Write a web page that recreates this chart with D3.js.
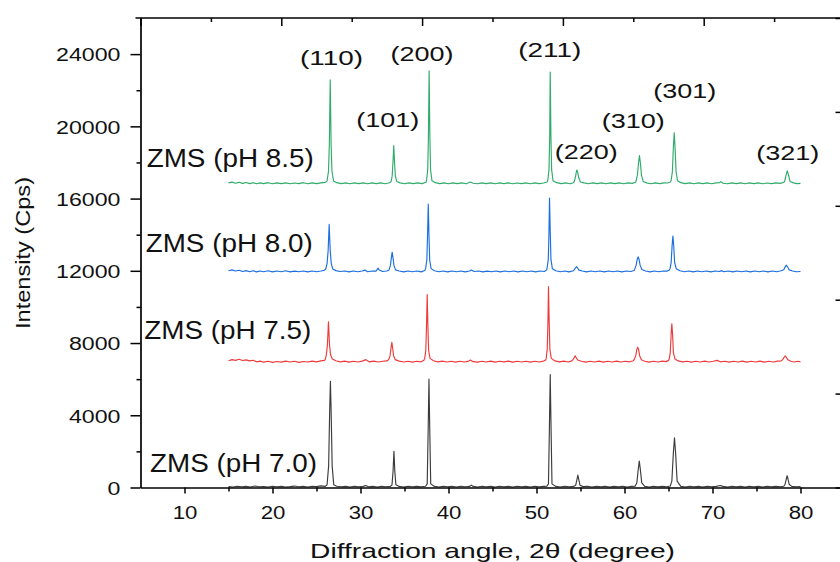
<!DOCTYPE html>
<html>
<head>
<meta charset="utf-8">
<script src="https://cdn.jsdelivr.net/npm/d3@7"></script>
<style>
  html, body { margin: 0; padding: 0; background: #fff; }
  svg { display: block; font-family: "Liberation Sans", Arial, sans-serif; }
</style>
</head>
<body>
<svg id="chart" width="840" height="562"></svg>
<script>
// XRD patterns of ZMS powders prepared at different pH, [2θ (deg), intensity (Cps)]
const zms70 = [
  [15.0,50],[15.5,30],[16.0,70],[16.5,40],[17.0,60],[17.5,30],[18.0,80],[18.5,40],[19.0,50],[19.5,30],
  [20.0,70],[20.5,40],[21.0,60],[21.5,30],[22.0,50],[22.5,80],[23.0,40],[23.5,60],[24.0,30],[24.5,70],
  [25.0,50],[25.5,90],[26.0,60],
  [26.2,150],[26.38,1200],[26.5,4300],[26.58,5880],[26.66,4300],[26.78,1200],[26.96,150],
  [27.3,70],[27.8,40],[28.3,60],[28.8,30],[29.3,70],[29.8,40],[30.3,60],[30.6,110],[30.9,40],[31.4,60],
  [31.9,30],[32.4,70],[32.9,40],[33.4,60],
  [33.58,150],[33.7,900],[33.8,2000],[33.9,900],[34.02,150],
  [34.4,60],[34.9,30],[35.4,70],[35.9,40],[36.4,60],[36.9,40],[37.4,70],
  [37.58,200],[37.7,3500],[37.78,6000],[37.86,3500],[37.98,200],
  [38.4,60],[38.9,30],[39.4,70],[39.9,40],[40.4,60],[40.9,30],[41.4,70],[41.9,40],[42.4,60],[42.6,130],
  [42.8,60],[43.3,30],[43.8,70],[44.3,40],[44.8,60],[45.3,30],[45.8,70],[46.3,40],[46.8,60],[47.3,30],
  [47.8,70],[48.3,40],[48.8,60],[49.3,30],[49.8,70],[50.3,40],[50.8,60],[51.2,80],
  [51.36,200],[51.48,3700],[51.56,6250],[51.64,3700],[51.76,200],
  [52.2,60],[52.7,30],[53.2,70],[53.7,40],[54.2,60],
  [54.45,120],[54.6,450],[54.7,690],[54.8,450],[54.95,120],
  [55.3,50],[55.8,70],[56.3,30],[56.8,60],[57.3,40],[57.8,70],[58.3,30],[58.8,60],[59.3,40],[59.8,70],
  [60.3,30],[60.8,60],[61.2,70],
  [61.4,250],[61.56,1000],[61.68,1470],[61.8,1000],[61.96,250],
  [62.3,60],[62.8,30],[63.3,70],[63.8,40],[64.3,60],[64.8,40],[65.2,80],
  [65.38,350],[65.55,1900],[65.68,2750],[65.81,1900],[65.98,350],
  [66.4,60],[66.9,30],[67.4,70],[67.9,40],[68.4,60],[68.9,30],[69.4,70],[69.9,40],[70.4,60],[70.9,110],
  [71.2,60],[71.7,30],[72.2,70],[72.7,40],[73.2,60],[73.7,30],[74.2,70],[74.7,40],[75.2,60],[75.7,30],
  [76.2,70],[76.7,40],[77.2,60],[77.7,40],[78.1,70],
  [78.25,180],[78.38,470],[78.48,650],[78.58,470],[78.71,180],
  [79.0,60],[79.5,40],[80.0,50]
];

const zms75 = [
  [15.0,7020],[15.4,7080],[15.8,7040],[16.2,7100],[16.6,7030],[17.0,7070],[17.4,7010],[17.8,7050],[18.2,6960],[18.6,7000],
  [19.0,6940],[19.5,6990],[20.0,6930],[20.5,6980],[21.0,6940],[21.5,7000],[22.0,6950],[22.5,6990],[23.0,6930],[23.5,6980],
  [24.0,6950],[24.5,7000],[25.0,6960],[25.5,7010],[25.9,7040],
  [26.0,7100],[26.12,7350],[26.24,7900],[26.36,9180],[26.48,7900],[26.6,7350],[26.8,7120],
  [27.2,7020],[27.7,6960],[28.2,7000],[28.7,6940],[29.2,6990],[29.7,6950],[30.2,7000],[30.6,7080],[31.0,6960],[31.5,7000],
  [32.0,6950],[32.5,6990],[33.0,7010],
  [33.2,7080],[33.36,7300],[33.46,7700],[33.56,8040],[33.66,7700],[33.76,7300],[33.95,7080],
  [34.4,7000],[34.9,6950],[35.4,6990],[35.9,6940],[36.4,6990],[36.9,6960],[37.2,7050],
  [37.3,7150],[37.42,7600],[37.5,8900],[37.58,10690],[37.66,8900],[37.74,7600],[37.9,7150],
  [38.3,7020],[38.8,6960],[39.3,7000],[39.8,6950],[40.3,6990],[40.8,6940],[41.3,6990],[41.8,6950],[42.3,7000],[42.5,7060],
  [42.8,6970],[43.3,6940],[43.8,6990],[44.3,6950],[44.8,7000],[45.3,6940],[45.8,6990],[46.3,6960],[46.8,7000],[47.3,6940],
  [47.8,6990],[48.3,6950],[48.8,6990],[49.3,6940],[49.8,6990],[50.3,6950],[50.8,7000],[51.05,7060],
  [51.1,7150],[51.22,7650],[51.3,9200],[51.36,11120],[51.44,9200],[51.52,7650],[51.68,7150],
  [52.1,7010],[52.6,6960],[53.1,7000],[53.6,6950],[54.0,7010],
  [54.15,7080],[54.3,7200],[54.4,7290],[54.5,7200],[54.68,7060],
  [55.1,6990],[55.6,6940],[56.1,6990],[56.6,6950],[57.1,7000],[57.6,6940],[58.1,6990],[58.6,6950],[59.1,7000],[59.6,6950],
  [60.1,6990],[60.6,6960],[61.0,7020],
  [61.1,7080],[61.28,7300],[61.4,7650],[61.5,7770],[61.6,7650],[61.72,7300],[61.92,7070],
  [62.3,6990],[62.8,6940],[63.3,6990],[63.8,6950],[64.3,7000],[64.7,6970],[65.0,7040],
  [65.08,7120],[65.2,7450],[65.3,8500],[65.38,9070],[65.46,8500],[65.56,7450],[65.74,7110],
  [66.1,7010],[66.6,6960],[67.1,6990],[67.6,6940],[68.1,6990],[68.6,6950],[69.1,7000],[69.6,6950],[70.1,6990],[70.5,7040],
  [70.9,6960],[71.4,6990],[71.9,6940],[72.4,6990],[72.9,6950],[73.4,7000],[73.9,6940],[74.4,6990],[74.9,6950],[75.4,7000],
  [75.9,6940],[76.4,6990],[76.9,6950],[77.4,7000],[77.8,7010],
  [77.98,7080],[78.12,7200],[78.26,7290],[78.4,7200],[78.56,7070],
  [78.9,6990],[79.3,6950],[79.7,6990],[80.0,6960]
];

const zms80 = [
  [15.0,12000],[15.4,12050],[15.8,11990],[16.2,12030],[16.6,11960],[17.0,12010],[17.4,11950],[17.8,12000],[18.2,11940],[18.6,11990],
  [19.0,11950],[19.5,12000],[20.0,11940],[20.5,11990],[21.0,11950],[21.5,12000],[22.0,11940],[22.5,11980],[23.0,11950],[23.5,11990],
  [24.0,11940],[24.5,11990],[25.0,11950],[25.5,11990],[25.9,12030],
  [26.05,12100],[26.2,12400],[26.32,13100],[26.44,14570],[26.56,13100],[26.68,12400],[26.85,12100],
  [27.2,12010],[27.7,11960],[28.2,11990],[28.7,11940],[29.2,11990],[29.7,11950],[30.2,11990],[30.5,12040],[30.8,11950],[31.3,11990],
  [31.75,11980],[31.9,12080],[32.0,12150],[32.1,12060],[32.5,11960],[33.0,11990],
  [33.25,12050],[33.4,12300],[33.5,12700],[33.6,13030],[33.7,12700],[33.8,12300],[33.98,12050],
  [34.4,11990],[34.9,11940],[35.4,11990],[35.9,11950],[36.4,11990],[36.9,11940],[37.3,12020],
  [37.4,12120],[37.54,12600],[37.62,14000],[37.7,15690],[37.78,14000],[37.86,12600],[38.02,12120],
  [38.4,12000],[38.9,11950],[39.4,11990],[39.9,11940],[40.4,11990],[40.9,11950],[41.4,11990],[41.9,11940],[42.4,11990],[42.6,12040],
  [42.9,11960],[43.4,11990],[43.9,11940],[44.4,11980],[44.9,11950],[45.4,11990],[45.9,11940],[46.4,11990],[46.9,11950],[47.4,11990],
  [47.9,11940],[48.4,11990],[48.9,11950],[49.4,11990],[49.9,11940],[50.4,11990],[50.9,11960],[51.15,12050],
  [51.2,12130],[51.34,12650],[51.42,14200],[51.48,16030],[51.56,14200],[51.64,12650],[51.8,12120],
  [52.2,12000],[52.7,11950],[53.2,11990],[53.7,11940],[54.2,12000],
  [54.3,12060],[54.45,12170],[54.55,12230],[54.65,12170],[54.82,12040],
  [55.2,11990],[55.7,11940],[56.2,11990],[56.7,11950],[57.2,11990],[57.7,11940],[58.2,11990],[58.7,11950],[59.2,11990],[59.7,11940],
  [60.2,11990],[60.7,11960],[61.1,12020],
  [61.15,12080],[61.32,12300],[61.45,12650],[61.55,12770],[61.65,12650],[61.78,12300],[61.98,12070],
  [62.4,11990],[62.9,11940],[63.4,11990],[63.9,11950],[64.4,11990],[64.8,11980],[65.1,12050],
  [65.18,12130],[65.3,12450],[65.41,13400],[65.5,13930],[65.59,13400],[65.7,12450],[65.88,12120],
  [66.3,12000],[66.8,11950],[67.3,11990],[67.8,11940],[68.3,11990],[68.8,11950],[69.3,11990],[69.8,11940],[70.3,11990],[70.8,11960],
  [71.0,12010],[71.3,11950],[71.8,11990],[72.3,11940],[72.8,11990],[73.3,11950],[73.8,11990],[74.3,11940],[74.8,11990],[75.3,11950],
  [75.8,11990],[76.3,11940],[76.8,11990],[77.3,11950],[77.8,12000],
  [78.1,12060],[78.26,12220],[78.4,12310],[78.54,12210],[78.72,12050],
  [79.1,11990],[79.5,11950],[80.0,11960]
];

const zms85 = [
  [15.0,16870],[15.4,16910],[15.8,16850],[16.2,16900],[16.6,16840],[17.0,16890],[17.4,16830],[17.8,16880],[18.2,16820],[18.6,16870],
  [19.0,16830],[19.5,16880],[20.0,16820],[20.5,16870],[21.0,16830],[21.5,16870],[22.0,16820],[22.5,16860],[23.0,16830],[23.5,16880],
  [24.0,16820],[24.5,16870],[25.0,16830],[25.5,16870],[26.0,16900],
  [26.2,16980],[26.36,17500],[26.46,19000],[26.56,22580],[26.66,19000],[26.76,17500],[26.94,16980],
  [27.3,16880],[27.8,16830],[28.3,16870],[28.8,16820],[29.3,16870],[29.8,16830],[30.3,16870],[30.8,16820],[31.3,16870],[31.8,16830],
  [32.3,16870],[32.8,16820],[33.3,16880],
  [33.48,16950],[33.6,17250],[33.7,18100],[33.78,18930],[33.86,18100],[33.96,17250],[34.12,16950],
  [34.5,16870],[35.0,16820],[35.5,16870],[36.0,16830],[36.5,16870],[37.0,16830],[37.45,16900],
  [37.5,17000],[37.64,17600],[37.72,19500],[37.8,23080],[37.88,19500],[37.96,17600],[38.12,16990],
  [38.5,16880],[39.0,16830],[39.5,16870],[40.0,16820],[40.5,16870],[41.0,16830],[41.5,16870],[42.0,16820],[42.5,16920],[42.8,16850],
  [43.3,16820],[43.8,16870],[44.3,16830],[44.8,16870],[45.3,16820],[45.8,16870],[46.3,16830],[46.8,16870],[47.3,16820],[47.8,16860],
  [48.3,16830],[48.8,16870],[49.3,16820],[49.8,16870],[50.3,16830],[50.8,16860],[51.2,16920],
  [51.28,17000],[51.42,17600],[51.5,19400],[51.56,23010],[51.64,19400],[51.72,17600],[51.88,16990],
  [52.3,16880],[52.8,16830],[53.3,16870],[53.8,16820],[54.2,16880],
  [54.3,16950],[54.45,17250],[54.55,17550],[54.6,17580],[54.68,17450],[54.8,17150],[55.0,16920],
  [55.4,16870],[55.9,16820],[56.4,16870],[56.9,16830],[57.4,16870],[57.9,16820],[58.4,16870],[58.9,16830],[59.4,16870],[59.9,16820],
  [60.4,16870],[60.9,16840],[61.25,16900],
  [61.3,16960],[61.47,17300],[61.6,18000],[61.7,18380],[61.8,18000],[61.93,17300],[62.12,16950],
  [62.5,16870],[63.0,16820],[63.5,16870],[64.0,16830],[64.5,16870],[64.9,16860],[65.2,16920],
  [65.3,17000],[65.44,17500],[65.56,18900],[65.65,19640],[65.74,18900],[65.86,17500],[66.02,16990],
  [66.4,16880],[66.9,16830],[67.4,16870],[67.9,16820],[68.4,16870],[68.9,16830],[69.4,16870],[69.9,16820],[70.4,16870],[70.8,16880],
  [70.95,16940],[71.2,16850],[71.7,16820],[72.2,16870],[72.7,16830],[73.2,16870],[73.7,16820],[74.2,16870],[74.7,16830],[75.2,16870],
  [75.7,16820],[76.2,16860],[76.7,16830],[77.2,16870],[77.7,16840],[78.1,16900],
  [78.2,16970],[78.36,17300],[78.5,17540],[78.64,17300],[78.82,16950],
  [79.2,16870],[79.6,16830],[80.0,16840]
];

const seriesNames = ["ZMS (pH 7.0)", "ZMS (pH 7.5)", "ZMS (pH 8.0)", "ZMS (pH 8.5)"];
const seriesData = [zms70, zms75, zms80, zms85];
const seriesColors = ["#3c3c3c", "#ee3a3a", "#1b6ee0", "#2fab6b"];

// Miller indices of the reflections, placed in data units (2θ, Cps)
const reflections = ["(110)", "(101)", "(200)", "(211)", "(220)", "(310)", "(301)", "(321)"];
const reflectionAngle = [26.7, 33.1, 37.0, 51.5, 55.65, 61.0, 66.85, 78.55];
const reflectionCps = [23380, 19960, 23620, 23840, 18180, 19890, 21550, 18130];

const xTicks = [10, 20, 30, 40, 50, 60, 70, 80];
const xMinor = [15, 25, 35, 45, 55, 65, 75];
const yTicks = [0, 4000, 8000, 12000, 16000, 20000, 24000];
const yMinor = [2000, 6000, 10000, 14000, 18000, 22000];

const xTitle = "Diffraction angle, 2\u03B8 (degree)";
const yTitle = "Intensity (Cps)";

// ---- layout ----
const svg = d3.select("#chart");
const plotL = 140.5, plotR = 844.5, plotT = 18, plotB = 487.5;
const FONT = '"Liberation Sans", Arial, sans-serif';

const x = d3.scaleLinear().domain([5, 85]).range([plotL, plotR]);
const y = d3.scaleLinear().domain([0, 26000]).range([plotB, plotT]);

// mirror frame scales (top and right edges)
const xTop = d3.scaleLinear().domain([0, 10]).range([plotL, plotR]);
const yRight = d3.scaleLinear().domain([0, 5]).range([plotB, plotT]);

const axisStyle = g => {
  g.selectAll(".domain").attr("stroke", "#000").attr("stroke-width", 1.7);
  g.selectAll(".tick line").attr("stroke", "#000").attr("stroke-width", 1.5);
};

// patterns
const line = d3.line().x(d => x(d[0])).y(d => y(d[1]));
svg.append("g").selectAll("path")
  .data(seriesData)
  .join("path")
  .attr("d", line)
  .attr("fill", "none")
  .attr("stroke", (d, i) => seriesColors[i])
  .attr("stroke-width", 1.15)
  .attr("stroke-linejoin", "round");

// left axis
const gy = svg.append("g").attr("transform", `translate(${plotL},0)`)
  .call(d3.axisLeft(y).tickValues(yTicks).tickSize(10).tickSizeOuter(0).tickPadding(0).tickFormat(d3.format("d")));
svg.append("g").attr("transform", `translate(${plotL},0)`)
  .call(d3.axisLeft(y).tickValues(yMinor).tickSize(4).tickFormat("")).call(axisStyle)
  .select(".domain").remove();
axisStyle(gy);
const ySx = 1.22;
gy.selectAll(".tick text")
  .attr("font-family", FONT).attr("font-size", 19).attr("fill", "#111")
  .attr("x", -20 / ySx).attr("dy", "0.36em")
  .attr("transform", `scale(${ySx},1)`);

// bottom axis
const gx = svg.append("g").attr("transform", `translate(0,${plotB})`)
  .call(d3.axisBottom(x).tickValues(xTicks).tickSize(6).tickSizeOuter(0).tickFormat(d3.format("d")));
svg.append("g").attr("transform", `translate(0,${plotB})`)
  .call(d3.axisBottom(x).tickValues(xMinor).tickSize(4).tickFormat("")).call(axisStyle)
  .select(".domain").remove();
axisStyle(gx);
const xSx = 1.2;
gx.selectAll(".tick text")
  .attr("font-family", FONT).attr("font-size", 18.5).attr("fill", "#111")
  .attr("y", 32).attr("dy", 0)
  .attr("transform", `scale(${xSx},1)`);

// top frame with inward ticks
const gt = svg.append("g").attr("transform", `translate(0,${plotT})`)
  .call(d3.axisTop(xTop).tickValues(d3.range(0, 11, 2)).tickSize(-8).tickSizeOuter(0).tickFormat(""));
axisStyle(gt);
gt.select(".domain").attr("d", `M${plotL - 5},0H${plotR}`);
svg.append("g").attr("transform", `translate(0,${plotT})`)
  .call(d3.axisTop(xTop).tickValues(d3.range(1, 10, 2)).tickSize(-4).tickFormat("")).call(axisStyle)
  .select(".domain").remove();

// right frame with inward ticks
const gr = svg.append("g").attr("transform", `translate(${plotR},0)`)
  .call(d3.axisRight(yRight).tickValues(d3.range(0, 6)).tickSize(-9).tickSizeOuter(0).tickFormat(""));
axisStyle(gr);

// series labels
const labelPos = [[150, 471.7], [144.3, 339], [145.7, 252.3], [146.7, 166.7]];
svg.append("g").selectAll("text")
  .data(seriesNames)
  .join("text")
  .attr("x", (d, i) => labelPos[i][0])
  .attr("y", (d, i) => labelPos[i][1])
  .attr("font-family", FONT).attr("font-size", 25.5).attr("fill", "#111")
  .attr("textLength", 167).attr("lengthAdjust", "spacingAndGlyphs")
  .text(d => d);

// reflection labels
svg.append("g").selectAll("text")
  .data(reflections)
  .join("text")
  .attr("x", (d, i) => x(reflectionAngle[i]))
  .attr("y", (d, i) => y(reflectionCps[i]))
  .attr("text-anchor", "middle")
  .attr("font-family", FONT).attr("font-size", 21).attr("fill", "#111")
  .attr("textLength", 63).attr("lengthAdjust", "spacingAndGlyphs")
  .text(d => d);

// axis titles
svg.append("text")
  .attr("x", 492.5).attr("y", 558)
  .attr("text-anchor", "middle")
  .attr("font-family", FONT).attr("font-size", 21).attr("fill", "#111")
  .attr("textLength", 365).attr("lengthAdjust", "spacingAndGlyphs")
  .text(xTitle);

svg.append("text")
  .attr("transform", "translate(29.5,253) rotate(-90)")
  .attr("text-anchor", "middle")
  .attr("font-family", FONT).attr("font-size", 20).attr("fill", "#111")
  .attr("textLength", 152).attr("lengthAdjust", "spacingAndGlyphs")
  .text(yTitle);
</script>
</body>
</html>
